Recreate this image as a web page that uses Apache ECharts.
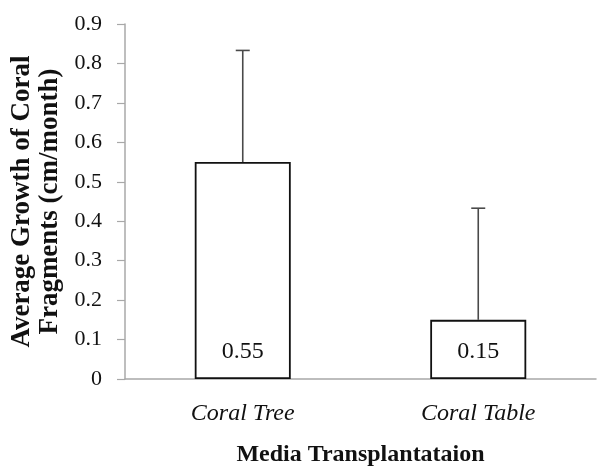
<!DOCTYPE html>
<html>
<head>
<meta charset="utf-8">
<script src="https://cdn.jsdelivr.net/npm/echarts@6/dist/echarts.min.js"></script>
<style>html,body{margin:0;padding:0;background:#fff;}#c{width:598px;height:466px;}</style>
</head>
<body>
<div id="c"></div>
<script>
const categories = ['Coral Tree', 'Coral Table'];
const means = [0.55, 0.15];
const errorTops = [0.833, 0.433];
const yTicks = [0, 0.1, 0.2, 0.3, 0.4, 0.5, 0.6, 0.7, 0.8, 0.9];

const FONT = 'Liberation Serif';
const chart = echarts.init(document.getElementById('c'), null, {renderer: 'canvas'});
chart.setOption({
  animation: false,
  grid: {left: 125, right: 2, top: 24, bottom: 87, containLabel: false, outerBoundsMode: 'none'},
  xAxis: {
    type: 'category',
    data: categories,
    name: 'Media Transplantataion',
    nameLocation: 'middle',
    nameGap: 64,
    nameTextStyle: {fontFamily: FONT, fontSize: 24, fontWeight: 'bold', color: '#111'},
    axisLine: {lineStyle: {color: '#a8a8a8', width: 1.5}},
    axisTick: {show: false},
    axisLabel: {fontFamily: FONT, fontSize: 24, fontStyle: 'italic', color: '#111', margin: 23}
  },
  yAxis: {
    type: 'value',
    min: 0, max: 0.9, interval: 0.1,
    name: 'Average Growth of Coral\nFragments (cm/month)',
    nameLocation: 'middle',
    nameRotate: 90,
    nameGap: 49,
    nameTextStyle: {fontFamily: FONT, fontSize: 27, fontWeight: 'bold', color: '#111', lineHeight: 28},
    axisLine: {show: true, lineStyle: {color: '#a8a8a8', width: 1.5}},
    axisTick: {show: true, length: 8, lineStyle: {color: '#a8a8a8', width: 1.2}},
    splitLine: {show: false},
    axisLabel: {
      fontFamily: FONT, fontSize: 22, color: '#111', margin: 23,
      formatter: v => { const t = yTicks.find(x => Math.abs(x - v) < 1e-9); return t === 0 ? '0' : String(t); }
    }
  },
  series: [
    {
      type: 'bar',
      data: means,
      barWidth: 96,
      itemStyle: {color: '#fff', borderColor: '#111', borderWidth: 1.8},
      label: {
        show: true, position: 'insideBottom', distance: 15,
        fontFamily: FONT, fontSize: 24, color: '#111',
        formatter: p => String(means[p.dataIndex])
      },
      z: 3
    },
    {
      type: 'custom',
      data: categories.map((c, i) => [i, means[i], errorTops[i]]),
      renderItem: (params, api) => {
        const x = api.value(0);
        const base = api.coord([x, api.value(1)]);
        const top = api.coord([x, api.value(2)]);
        const style = {stroke: '#4a4a4a', lineWidth: 1.6};
        return {
          type: 'group',
          children: [
            {type: 'line', shape: {x1: base[0], y1: base[1], x2: top[0], y2: top[1]}, style},
            {type: 'line', shape: {x1: top[0] - 7, y1: top[1], x2: top[0] + 7, y2: top[1]}, style}
          ]
        };
      },
      z: 4
    }
  ]
});
</script>
</body>
</html>
